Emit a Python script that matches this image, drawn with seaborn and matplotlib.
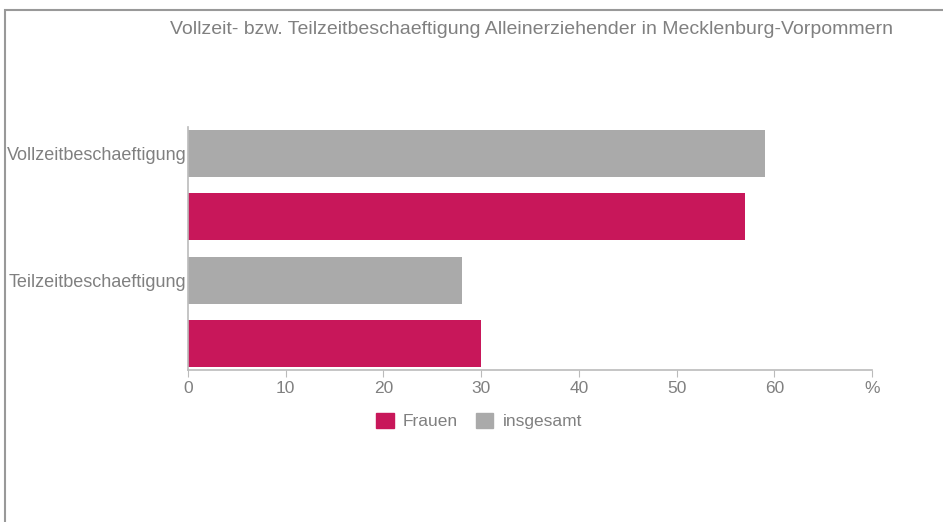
import matplotlib
matplotlib.use("Agg")
import matplotlib.pyplot as plt
import matplotlib.patches as mpatches
import seaborn as sns
import pandas as pd

categories = ["Vollzeitbeschaeftigung", "Teilzeitbeschaeftigung"]
insgesamt = [59, 28]
frauen = [57, 30]
series = ["insgesamt", "Frauen"]
colors = {"Frauen": "#C8175A", "insgesamt": "#AAAAAA"}
x_ticks = [0, 10, 20, 30, 40, 50, 60, 70]
x_labels = ["0", "10", "20", "30", "40", "50", "60", "%"]
title = "Vollzeit- bzw. Teilzeitbeschaeftigung Alleinerziehender in Mecklenburg-Vorpommern"

df = pd.DataFrame({
    "Kategorie": categories * 2,
    "Wert": insgesamt + frauen,
    "Gruppe": ["insgesamt"] * 2 + ["Frauen"] * 2,
})

sns.set_style("white")
plt.rcParams["font.family"] = ["Liberation Sans", "DejaVu Sans"]
txt = "#808080"
W, H = 943, 522
fig = plt.figure(figsize=(W / 100, H / 100), dpi=100)
ax = fig.add_axes([188 / W, 1 - 370 / H, 684 / W, 243 / H])

sns.barplot(data=df, y="Kategorie", x="Wert", hue="Gruppe", order=categories,
            hue_order=series, palette=colors, saturation=1, orient="h", width=1.0,
            gap=0.254, linewidth=0, legend=False, ax=ax)

ax.set_xlim(0, 70)
ax.set_ylim(1.5 - 5.5 / 127, -0.5 + 5.5 / 127)
ax.set_xticks(x_ticks)
ax.set_xticklabels(x_labels)
ax.set_yticks([-0.25, 0.75])
ax.set_yticklabels(categories)
ax.set_xlabel("")
ax.set_ylabel("")
for s in ["top", "right"]:
    ax.spines[s].set_visible(False)
for s in ["left", "bottom"]:
    ax.spines[s].set_color("#BBBBBB")
    ax.spines[s].set_linewidth(1.2)
ax.tick_params(axis="x", bottom=True, length=5, color="#BBBBBB", labelsize=12.5,
               labelcolor=txt, pad=3)
ax.tick_params(axis="y", left=False, length=0, labelsize=13, labelcolor=txt, pad=1)

fig.text(531 / W, 1 - 29 / H, title, ha="center", va="center", fontsize=14, color=txt)

handles = [mpatches.Patch(color=colors["Frauen"], label="Frauen"),
           mpatches.Patch(color=colors["insgesamt"], label="insgesamt")]
fig.legend(handles=handles, loc="center", bbox_to_anchor=(479 / W, 1 - 421 / H), ncol=2,
           frameon=False, fontsize=12.5, labelcolor=txt, handlelength=1.0,
           handleheight=1.0, handletextpad=0.55, columnspacing=1.0)

fig.patches.append(mpatches.Rectangle((5 / W, -0.1), 1.2, 1 - 10 / H + 0.1,
                                      transform=fig.transFigure, fill=False,
                                      edgecolor="#999999", linewidth=1.5))

fig.savefig("out.png", dpi=100)
